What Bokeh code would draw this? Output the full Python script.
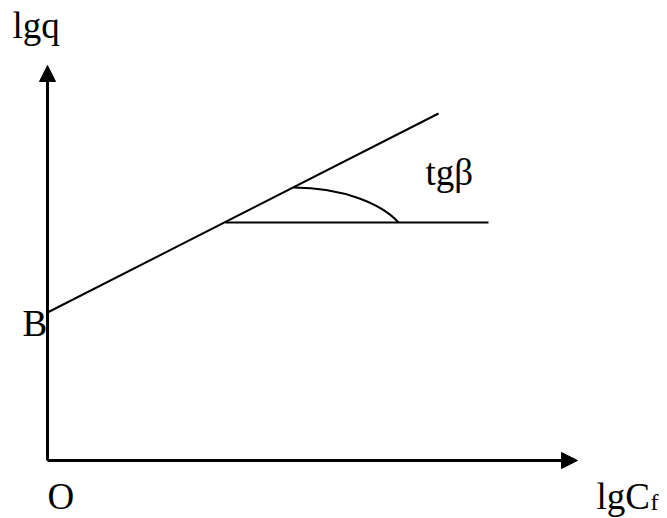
from bokeh.plotting import figure
from bokeh.models import Range1d, Arrow, NormalHead, Label
from bokeh.embed import file_html
from bokeh.resources import INLINE

# Schematic of lg q versus lg C_f (units: drawing units, origin at O)
axis_x_end = [530]          # tip of the lgC_f axis
axis_y_end = [395]          # tip of the lgq axis
intercept_B = [148]         # value of lgq at lgC_f = 0
line_x = [0, 391]           # straight line lgq = B + tgβ * lgC_f
line_y = [148, 347]
ref_x = [178, 441]          # horizontal reference line through the intersection
ref_y = [238, 238]
arc_start = (246, 273)      # angle marker β
arc_end = (351, 238)
arc_ctrl1 = (296, 273)
arc_ctrl2 = (335, 256)

FONT = "Liberation Serif"

p = figure(width=667, height=518, output_backend="svg", toolbar_location=None,
           x_range=Range1d(-47, 620), y_range=Range1d(-58, 460),
           min_border=0)
p.axis.visible = False
p.grid.visible = False
p.outline_line_color = None
p.background_fill_color = "white"
p.border_fill_color = "white"

# axes with filled arrowheads
p.add_layout(Arrow(end=NormalHead(size=16, fill_color="black", line_color="black"),
                   x_start=0, y_start=0, x_end=0, y_end=axis_y_end[0],
                   line_width=3, line_color="black"))
p.add_layout(Arrow(end=NormalHead(size=16, fill_color="black", line_color="black"),
                   x_start=0, y_start=0, x_end=axis_x_end[0], y_end=0,
                   line_width=3, line_color="black"))

# the line and the horizontal reference
p.line(line_x, line_y, line_color="black", line_width=2)
p.line(ref_x, ref_y, line_color="black", line_width=2)

# angle arc
p.bezier(x0=[arc_start[0]], y0=[arc_start[1]], x1=[arc_end[0]], y1=[arc_end[1]],
         cx0=[arc_ctrl1[0]], cy0=[arc_ctrl1[1]], cx1=[arc_ctrl2[0]], cy1=[arc_ctrl2[1]],
         line_color="black", line_width=2)

def lbl(x, y, t, size="37px"):
    p.add_layout(Label(x=x, y=y, text=t, text_font=FONT, text_font_size=size,
                       text_color="black", text_baseline="alphabetic",
                       text_align="left"))

lbl(-35, 435, "lgq")
lbl(-25, intercept_B[0] - 11, "B")
lbl(0, -36, "O")
lbl(549, -36, "lgC")
lbl(603, -41, "f", size="24px")
lbl(378, 288, "tgβ")

open("out.html", "w").write(file_html(p, INLINE))
